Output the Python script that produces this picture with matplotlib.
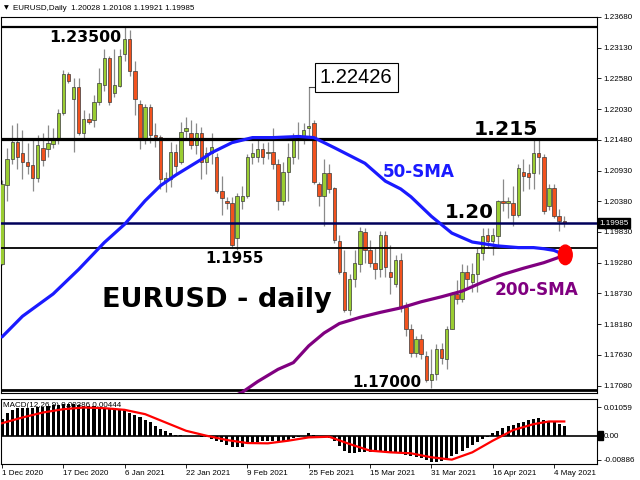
import matplotlib
matplotlib.use('Agg')
import matplotlib.pyplot as plt
from matplotlib.patches import Ellipse, Rectangle
import matplotlib.transforms as mtransforms
import numpy as np

# ---------------- data ----------------
opens = [1.1925, 1.2067, 1.2113, 1.2145, 1.2125, 1.2108, 1.2103, 1.2080, 1.2134, 1.2131,
         1.2141, 1.2150, 1.2196, 1.2266, 1.2222, 1.2243, 1.2161, 1.2185, 1.2184, 1.2215,
         1.2247, 1.2294, 1.2231, 1.2245, 1.2302, 1.2328, 1.2272, 1.2213, 1.2152, 1.2206,
         1.2157, 1.2153, 1.2074, 1.2078, 1.2127, 1.2108, 1.2164, 1.2161, 1.2138, 1.2161,
         1.2108, 1.2125, 1.2118, 1.2057, 1.2039, 1.2034, 1.1972, 1.2038, 1.2048, 1.2117,
         1.2117, 1.2131, 1.2124, 1.2127, 1.2104, 1.2038, 1.2090, 1.2118, 1.2153, 1.2152,
         1.2169, 1.2178, 1.2069, 1.2048, 1.2089, 1.2062, 1.1967, 1.1911, 1.1844, 1.1899,
         1.1925, 1.1983, 1.1950, 1.1928, 1.1916, 1.1978, 1.1911, 1.1890, 1.1932, 1.1849,
         1.1809, 1.1766, 1.1791, 1.1761, 1.1717, 1.1728, 1.1774, 1.1756, 1.1810, 1.1872,
         1.1863, 1.1911, 1.1894, 1.1907, 1.1946, 1.1978, 1.1967, 1.1976, 1.2038, 1.2034,
         1.2034, 1.2013, 1.2090, 1.2089, 1.2089, 1.2125, 1.2118, 1.2029, 1.2062, 1.2011,
         1.20028]
highs = [1.2076, 1.2134, 1.2175, 1.2178, 1.2166, 1.2143, 1.2148, 1.2157, 1.2161, 1.2175,
         1.2169, 1.2203, 1.2273, 1.2270, 1.2258, 1.2258, 1.2201, 1.2196, 1.2228, 1.2277,
         1.2310, 1.2298, 1.2310, 1.2310, 1.2351, 1.2344, 1.2289, 1.2219, 1.2213, 1.2213,
         1.2178, 1.2157, 1.2090, 1.2145, 1.2140, 1.2180, 1.2189, 1.2184, 1.2178, 1.2171,
         1.2136, 1.2161, 1.2125, 1.2083, 1.2046, 1.2046, 1.2052, 1.2066, 1.2122, 1.2143,
         1.2148, 1.2143, 1.2145, 1.2169, 1.2113, 1.2108, 1.2143, 1.2161, 1.2180, 1.2178,
         1.2243, 1.2184, 1.2073, 1.2113, 1.2104, 1.2064, 1.1978, 1.1950, 1.1907, 1.1950,
         1.1992, 1.1990, 1.1969, 1.1955, 1.1985, 1.1985, 1.1960, 1.1942, 1.1946, 1.1858,
         1.1819, 1.1796, 1.1800, 1.1770, 1.1774, 1.1782, 1.1784, 1.1814, 1.1876, 1.1897,
         1.1925, 1.1923, 1.1928, 1.1955, 1.1990, 1.1990, 1.1990, 1.2041, 1.2078, 1.2046,
         1.2066, 1.2104, 1.2113, 1.2104, 1.2148, 1.2150, 1.2122, 1.2069, 1.2069, 1.2025,
         1.20108]
lows = [1.1923, 1.2039, 1.2104, 1.2096, 1.2078, 1.2087, 1.2057, 1.2073, 1.2101, 1.2117,
        1.2134, 1.2141, 1.2192, 1.2249, 1.2127, 1.2157, 1.2152, 1.2177, 1.2171, 1.2210,
        1.2236, 1.2210, 1.2224, 1.2242, 1.2289, 1.2263, 1.2192, 1.2131, 1.2140, 1.2143,
        1.2136, 1.2060, 1.2055, 1.2064, 1.2087, 1.2104, 1.2152, 1.2131, 1.2122, 1.2078,
        1.2087, 1.2104, 1.2052, 1.2013, 1.2025, 1.1955, 1.1951, 1.2025, 1.2043, 1.2104,
        1.2108, 1.2104, 1.2113, 1.2096, 1.2022, 1.2031, 1.2038, 1.2104, 1.2113, 1.2140,
        1.2148, 1.2069, 1.2029, 1.1993, 1.2052, 1.1964, 1.1907, 1.1840, 1.1835, 1.1884,
        1.1911, 1.1928, 1.1920, 1.1899, 1.1902, 1.1902, 1.1872, 1.1884, 1.1840, 1.1796,
        1.1759, 1.1759, 1.1756, 1.1714, 1.1703, 1.1717, 1.1747, 1.1738, 1.1809, 1.1854,
        1.1858, 1.1884, 1.1876, 1.1876, 1.1932, 1.1955, 1.1942, 1.1955, 1.2020, 1.2008,
        1.1993, 1.2009, 1.2057, 1.2060, 1.2060, 1.2087, 1.2016, 1.2023, 1.2008, 1.1985,
        1.19921]
closes = [1.2069, 1.2113, 1.2145, 1.2118, 1.2108, 1.2101, 1.2080, 1.2138, 1.2111, 1.2143,
          1.2152, 1.2196, 1.2266, 1.2254, 1.2242, 1.2161, 1.2185, 1.2180, 1.2215, 1.2249,
          1.2294, 1.2215, 1.2247, 1.2298, 1.2328, 1.2272, 1.2222, 1.2150, 1.2206, 1.2157,
          1.2153, 1.2078, 1.2080, 1.2127, 1.2101, 1.2162, 1.2169, 1.2138, 1.2161, 1.2108,
          1.2125, 1.2136, 1.2057, 1.2043, 1.2034, 1.1960, 1.2048, 1.2048, 1.2117, 1.2125,
          1.2131, 1.2118, 1.2127, 1.2104, 1.2038, 1.2090, 1.2118, 1.2152, 1.2157, 1.2166,
          1.2173, 1.2073, 1.2048, 1.2089, 1.2060, 1.1969, 1.1911, 1.1844, 1.1899, 1.1927,
          1.1985, 1.1951, 1.1928, 1.1916, 1.1978, 1.1920, 1.1902, 1.1932, 1.1849, 1.1809,
          1.1766, 1.1791, 1.1765, 1.1717, 1.1728, 1.1774, 1.1758, 1.1810, 1.1872, 1.1863,
          1.1911, 1.1899, 1.1907, 1.1946, 1.1976, 1.1967, 1.1978, 1.2038, 1.2034, 1.2038,
          1.2013, 1.2097, 1.2083, 1.2082, 1.2125, 1.2118, 1.2020, 1.2062, 1.2011, 1.2002,
          1.19985]

sma50_idx = [0, 4, 10, 15, 20, 24, 28, 31, 34, 39, 41, 45, 49, 53, 58, 61, 65, 68, 71, 75,
             78, 80, 84, 88, 92, 97, 101, 104, 106, 108, 110]
sma50_val = [1.1795, 1.1832, 1.1872, 1.1916, 1.1964, 1.1997, 1.2039, 1.2066, 1.2085, 1.2113,
             1.2125, 1.2143, 1.2152, 1.2152, 1.2154, 1.2152, 1.2134, 1.2120, 1.2106, 1.2074,
             1.2060, 1.2046, 1.2011, 1.1981, 1.1965, 1.1958, 1.1955, 1.1955, 1.1953, 1.1950,
             1.1942]
sma200_idx = [45, 47, 50, 54, 57, 60, 63, 66, 70, 74, 78, 82, 86, 90, 94, 98, 102, 106, 110]
sma200_val = [1.1687, 1.1696, 1.1715, 1.1737, 1.1749, 1.1779, 1.1802, 1.1819, 1.1830, 1.1839,
              1.1847, 1.1858, 1.1867, 1.1877, 1.1893, 1.1907, 1.1918, 1.1928, 1.1941]

macd_hist = [0.00612, 0.00856, 0.00942, 0.01015, 0.0104, 0.0104, 0.0104, 0.01064, 0.01076, 0.0110,
             0.01125, 0.01138, 0.01162, 0.01174, 0.01162, 0.01138, 0.01113, 0.0110, 0.01089, 0.01076,
             0.0104, 0.01015, 0.00979, 0.00954, 0.00942, 0.00856, 0.0077, 0.00673, 0.00575, 0.00489,
             0.00367, 0.00245, 0.00159, 0.00086, 0.00037, 0.0002, -0.0001, -0.0002, -0.0002, -0.00037,
             -0.00061, -0.00122, -0.00183, -0.00245, -0.0033, -0.00404, -0.00428, -0.00404, -0.00306, -0.00245,
             -0.0022, -0.00208, -0.00208, -0.00183, -0.00208, -0.00183, -0.00147, -0.00098, -0.00061, 0.0,
             0.00086, 0.00024, -0.00037, -0.00061, -0.00098, -0.00208, -0.00367, -0.0055, -0.00648, -0.00648,
             -0.00612, -0.00612, -0.00612, -0.00612, -0.00575, -0.00587, -0.00587, -0.00587, -0.00648, -0.00697,
             -0.00734, -0.00771, -0.0082, -0.00881, -0.00954, -0.00954, -0.00917, -0.00856, -0.00758, -0.00673,
             -0.00575, -0.00453, -0.00343, -0.00245, -0.00122, -0.00037, 0.00086, 0.00183, 0.00281, 0.00343,
             0.00391, 0.00465, 0.00514, 0.00575, 0.00612, 0.00648, 0.00575, 0.00526, 0.00489, 0.00428,
             0.00367]
signal_idx = [0, 4, 8, 12, 16, 20, 24, 28, 32, 36, 40, 44, 48, 52, 56, 60, 64, 68, 72, 76, 80,
              84, 88, 92, 96, 100, 104, 107, 110]
signal_val = [0.00462, 0.00673, 0.00856, 0.00979, 0.0104, 0.01015, 0.00954, 0.00795, 0.00489, 0.00183,
              0.0, -0.00159, -0.00269, -0.00281, -0.00183, -0.00061, -0.00037, -0.00306, -0.0055, -0.00612,
              -0.00648, -0.00795, -0.00881, -0.00612, -0.00183, 0.00208, 0.00428, 0.00526, 0.00526]

date_tick_idx = [0, 12, 24, 36, 48, 60, 72, 84, 96, 108]
date_tick_labels = ['1 Dec 2020', '17 Dec 2020', '6 Jan 2021', '22 Jan 2021', '9 Feb 2021',
                    '25 Feb 2021', '15 Mar 2021', '31 Mar 2021', '16 Apr 2021', '4 May 2021']
price_ticks = [1.23680, 1.23130, 1.22580, 1.22030, 1.21480, 1.20930, 1.20380, 1.19830,
               1.19280, 1.18730, 1.18180, 1.17630, 1.17080]
macd_ticks = [0.01059, 0.0, -0.00886]
macd_tick_labels = ['0.01059', '0.00', '-0.00886']

levels = [1.2350, 1.2150, 1.19985, 1.1955, 1.1700]
level_colors = ['black', 'black', '#00005a', 'black', 'black']
level_widths = [1.6, 2.3, 1.8, 1.3, 2.0]

# ---------------- figure ----------------
W, H = 640, 480
fig = plt.figure(figsize=(6.4, 4.8), dpi=100)
fig.patch.set_facecolor('white')

def fx(px):
    return px / W

def fy(py):
    return 1 - py / H

ax = fig.add_axes([fx(1), fy(393), fx(597) - fx(1), fy(17) - fy(393)])
axm = fig.add_axes([fx(1), fy(464), fx(597) - fx(1), fy(399) - fy(464)])

SMALL = ['Liberation Sans', 'DejaVu Sans']
sfs = 5.8

o = np.array(opens); h = np.array(highs); l = np.array(lows); c = np.array(closes)
x = np.arange(len(o))
up = c >= o

ax.vlines(x, l, h, color='#8a8a8a', lw=0.9, zorder=2)
body_lo = np.minimum(o, c)
body_h = np.maximum(np.abs(c - o), 0.00010)
ax.bar(x, body_h, bottom=body_lo, width=0.66,
       color=np.where(up, '#9acd32', '#f2521e'), edgecolor='#3a3a3a', linewidth=0.5, zorder=3)

for lv, col, lw in zip(levels, level_colors, level_widths):
    ax.axhline(lv, color=col, lw=lw, zorder=4)

ax.plot(sma50_idx, sma50_val, color='#1a1aff', lw=2.3, zorder=5, solid_capstyle='round')
ax.plot(sma200_idx, sma200_val, color='#800080', lw=2.3, zorder=5, solid_capstyle='round')
ax.add_patch(Ellipse((sma50_idx[-1] + 0.2, sma50_val[-1]), 2.7, 0.0035, color='#ff0000', zorder=6))

ax.set_xlim(-0.2, 116.4)
ax.set_ylim(1.16946, 1.23554)

# annotations
ax.text(9.2, 1.2323, '1.23500', fontsize=11.4, fontweight='bold', ha='left', va='baseline', zorder=7)
ax.text(92.2, 1.2157, '1.215', fontsize=14.7, fontweight='bold', ha='left', va='baseline', zorder=7)
ax.text(86.7, 1.2008, '1.20', fontsize=14.3, fontweight='bold', ha='left', va='baseline', zorder=7)
ax.text(39.7, 1.1927, '1.1955', fontsize=11, fontweight='bold', ha='left', va='baseline', zorder=7)
ax.text(68.5, 1.1705, '1.17000', fontsize=11, fontweight='bold', ha='left', va='baseline', zorder=7)
ax.text(19.6, 1.1849, 'EURUSD - daily', fontsize=19.5, fontweight='bold', ha='left', va='baseline', zorder=7)
ax.text(74.4, 1.2082, '50-SMA', fontsize=12.2, fontweight='bold', color='#1a1aff', ha='left', va='baseline', zorder=7)
ax.text(96.3, 1.1870, '200-SMA', fontsize=12.2, fontweight='bold', color='#800080', ha='left', va='baseline', zorder=7)
ax.plot([60, 61.6], [highs[60], highs[60]], color='#444444', lw=0.8, zorder=6)
ax.text(62.2, 1.2259, '1.22426', fontsize=14.5, family=SMALL, ha='left', va='center', zorder=7,
        bbox=dict(boxstyle='square,pad=0.25', facecolor='white', edgecolor='black', lw=0.8))

# right price axis
ax.yaxis.tick_right()
ax.set_yticks(price_ticks)
ax.set_yticklabels([f'{t:.5f}' for t in price_ticks], family=SMALL, fontsize=sfs)
ax.tick_params(axis='y', length=3, width=0.6, pad=1.5, direction='out')
ax.tick_params(axis='x', bottom=False, labelbottom=False)
for s in ax.spines.values():
    s.set_color('black'); s.set_linewidth(0.8)

trans = mtransforms.blended_transform_factory(ax.transAxes, ax.transData)
ax.text(1.004, closes[-1], f'{closes[-1]:.5f}', transform=trans, fontsize=sfs, family=SMALL,
        color='white', ha='left', va='center', zorder=10, clip_on=False,
        bbox=dict(boxstyle='square,pad=0.2', facecolor='black', edgecolor='black'))

# MACD panel
axm.text(0.004, 0.9, 'MACD(12,26,9) 0.00386 0.00444', transform=axm.transAxes, fontsize=sfs,
         family=SMALL, ha='left', va='center', zorder=1)
axm.bar(x, macd_hist, width=0.6, color='black', zorder=2)
axm.axhline(0, color='black', lw=1.2, zorder=3)
axm.plot(signal_idx, signal_val, color='#ff0000', lw=1.6, zorder=4)
axm.set_xlim(-0.2, 116.4)
axm.set_ylim(-0.01042, 0.01354)
axm.yaxis.tick_right()
axm.set_yticks(macd_ticks)
axm.set_yticklabels(macd_tick_labels, family=SMALL, fontsize=sfs)
axm.tick_params(axis='y', length=3, width=0.6, pad=1.5)
axm.set_xticks(date_tick_idx)
axm.set_xticklabels(date_tick_labels, family=SMALL, fontsize=sfs)
for lbl in axm.get_xticklabels():
    lbl.set_ha('left')
axm.tick_params(axis='x', length=3, width=0.6, pad=1.5)
for s in axm.spines.values():
    s.set_color('black'); s.set_linewidth(0.8)

fig.patches.append(Rectangle((fx(598), fy(440)), 5 / W, 9 / H, color='black',
                             transform=fig.transFigure, figure=fig))

# header
fig.text(fx(4), fy(8), '\u25bc', fontsize=4.5, family='DejaVu Sans', va='center', ha='left')
fig.text(fx(13), fy(8),
         f'EURUSD,Daily  {opens[-1]:.5f} {highs[-1]:.5f} {lows[-1]:.5f} {closes[-1]:.5f}',
         fontsize=sfs, family=SMALL, va='center', ha='left')

fig.savefig('out.png', dpi=100, facecolor='white')
